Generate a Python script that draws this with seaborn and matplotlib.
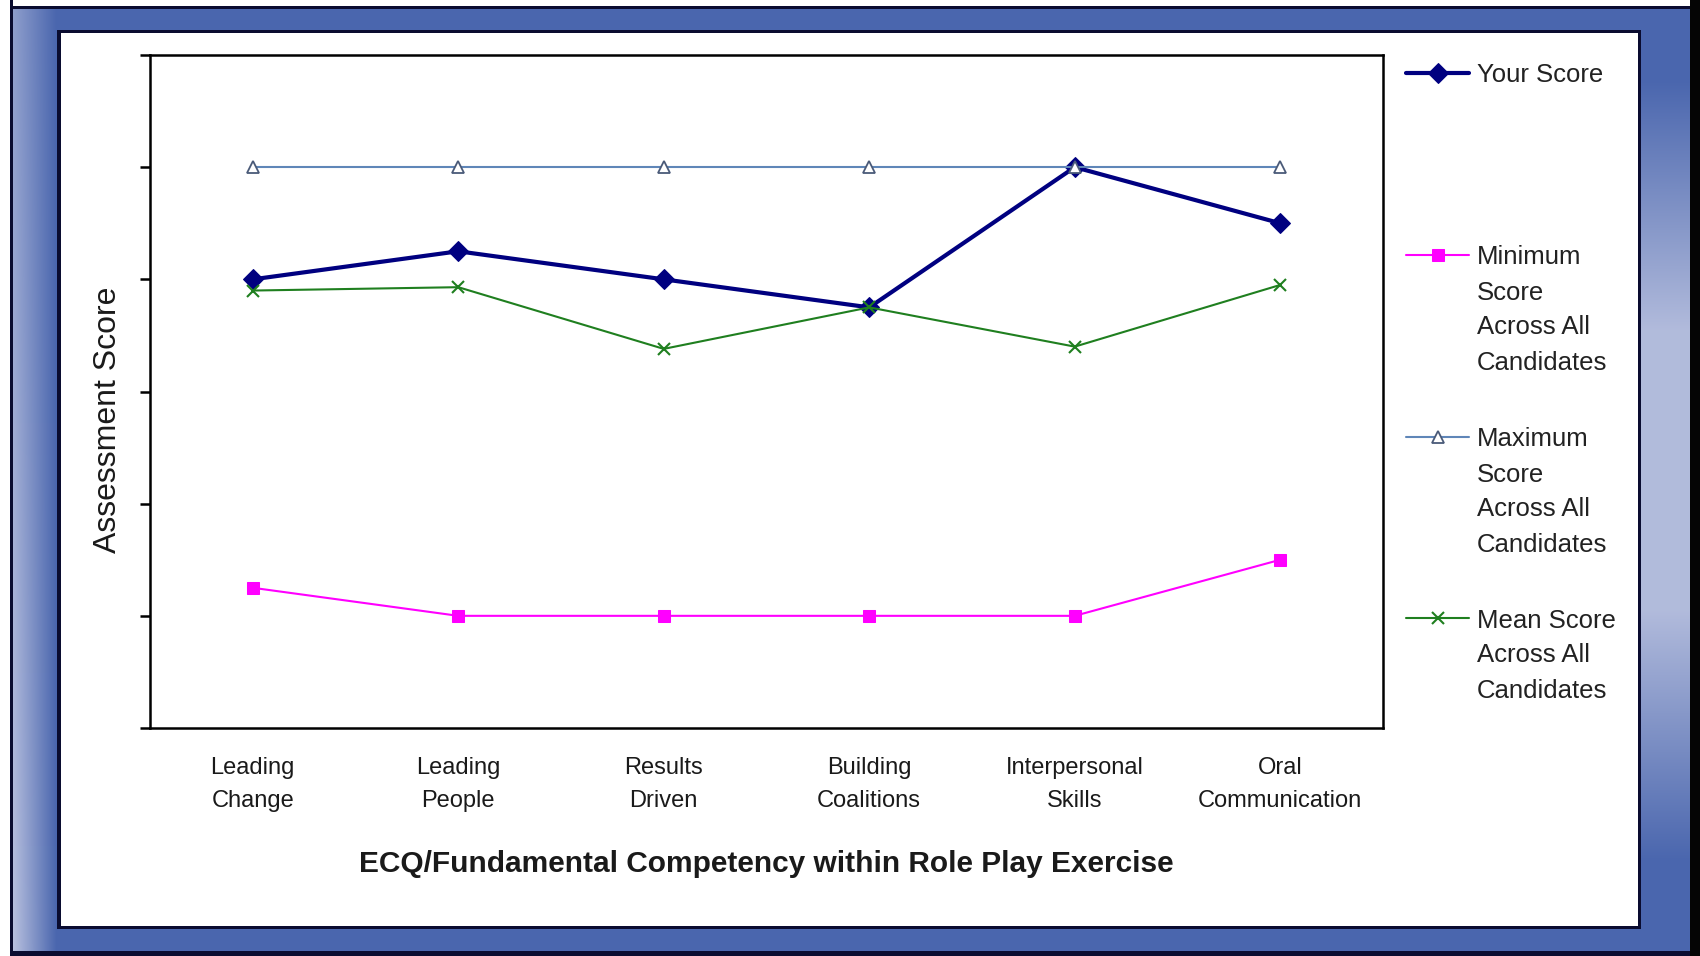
import numpy as np
import pandas as pd
import matplotlib
matplotlib.use("Agg")
import matplotlib.pyplot as plt
from matplotlib.lines import Line2D
import seaborn as sns

# ---------------- data ----------------
categories = ["Leading\nChange", "Leading\nPeople", "Results\nDriven",
              "Building\nCoalitions", "Interpersonal\nSkills", "Oral\nCommunication"]
your_score = [4.0, 4.25, 4.0, 3.75, 5.0, 4.5]
min_score = [1.25, 1.0, 1.0, 1.0, 1.0, 1.5]
max_score = [5.0, 5.0, 5.0, 5.0, 5.0, 5.0]
mean_score = [3.9, 3.93, 3.38, 3.75, 3.40, 3.95]
series_names = ["Your Score",
                "Minimum\nScore\nAcross All\nCandidates",
                "Maximum\nScore\nAcross All\nCandidates",
                "Mean Score\nAcross All\nCandidates"]
y_ticks = [0, 1, 2, 3, 4, 5, 6]

sns.set_style("white")
plt.rcParams["font.family"] = ["Liberation Sans", "DejaVu Sans"]

W, H = 1700, 956
fig = plt.figure(figsize=(W / 100, H / 100), dpi=100)

# ---------------- decorative frame ----------------
bg = np.ones((H, W, 3))
blue = np.array([0x4a, 0x66, 0xae]) / 255.0
light = np.array([0xc4, 0xca, 0xe4]) / 255.0
dark = np.array([0x0a, 0x0c, 0x30]) / 255.0
bg[:, :] = blue
xs = np.linspace(0, 1, 57 - 13)[None, :, None]
rows = np.linspace(0, 1, H)[:, None, None]
lightmix = 0.55 + 0.35 * rows
bg[:, 13:57] = light * (1 - xs) * lightmix + blue * (1 - (1 - xs) * lightmix)
yy = np.arange(H)
w = np.clip(np.minimum((yy - 80) / 250.0, (860 - yy) / 250.0), 0, 1)[:, None, None]
bg[:, 1641:1690] = blue * (1 - w * 0.85) + light * (w * 0.85)
bg[0:6, :] = 1.0
bg[:, 0:10] = 1.0
bg[6:9, 10:1690] = dark
bg[951:956, 10:1690] = dark
bg[:, 10:13] = dark
bg[:, 1690:] = 0.02
bg[30:33, 57:1641] = dark
bg[926:929, 57:1641] = dark
bg[30:929, 57:61] = dark
bg[30:929, 1638:1641] = dark
bg[33:926, 61:1638] = 1.0
axbg = fig.add_axes([0, 0, 1, 1], zorder=-10)
axbg.imshow(bg, aspect="auto", interpolation="bilinear")
axbg.set_axis_off()

# ---------------- main plot ----------------
L, R, T, B = 150, 1383, 55, 728
ax = fig.add_axes([L / W, 1 - B / H, (R - L) / W, (B - T) / H])
ax.set_facecolor("white")

styles = [
    dict(color="#000080", lw=3.0, marker="D", ms=10, mfc="#000080", mec="#000080"),
    dict(color="#ff00ff", lw=1.5, marker="s", ms=8, mfc="#ff00ff", mec="#ff00ff"),
    dict(color="#5f86b8", lw=1.5, marker="^", ms=9, mfc="white", mec="#4a5a78", mew=1.3),
    dict(color="#1f7f1f", lw=1.5, marker="x", ms=8, mec="#1f7f1f", mew=1.5),
]
values = [your_score, min_score, max_score, mean_score]

handles = []
for i, (name, vals, st) in enumerate(zip(series_names, values, styles)):
    df = pd.DataFrame({"cat": categories, "val": vals})
    st = dict(st)
    color = st.pop("color")
    sns.lineplot(data=df, x="cat", y="val", ax=ax, sort=False, color=color,
                 linewidth=st.pop("lw"), marker=st.pop("marker"),
                 markersize=st.pop("ms"), zorder=3 + i, **st)
    handles.append(ax.lines[-1])

ax.set_xlim(-0.5, 5.5)
ax.set_ylim(0, 6)
ax.set_xticks(range(len(categories)))
ax.set_xticklabels(categories, fontsize=17, color="#1a1a1a", linespacing=1.65)
ax.set_xticks(np.arange(-0.5, len(categories), 1.0), minor=True)
ax.tick_params(axis="x", which="major", length=0, pad=21)
ax.tick_params(axis="x", which="minor", length=7, width=1.8, direction="out", color="black")
ax.set_yticks(y_ticks)
ax.set_yticklabels([])
ax.tick_params(axis="y", which="major", length=7, width=1.8, direction="out", color="black", left=True)
for sp in ax.spines.values():
    sp.set_visible(True)
    sp.set_color("black")
    sp.set_linewidth(1.8)

ax.set_xlabel("ECQ/Fundamental Competency within Role Play Exercise",
              fontsize=21.5, fontweight="bold", color="#1a1a1a", va="center")
ax.xaxis.set_label_coords(0.5, (B - 864) / (B - T))
ax.set_ylabel("Assessment Score", fontsize=23, color="#1a1a1a", va="center")
ax.yaxis.set_label_coords((108 - L) / (R - L), (B - 420) / (B - T))

# ---------------- legend (right side, handles aligned with first line) ----------------
leg_y = [73, 255, 437, 618]
line_step = 35
hx0, hx1, tx = 1406, 1469, 1477
for h, name, y in zip(handles, series_names, leg_y):
    yf = 1 - y / H
    fig.add_artist(Line2D([hx0 / W, hx1 / W], [yf, yf], transform=fig.transFigure,
                          color=h.get_color(), lw=h.get_linewidth()))
    fig.add_artist(Line2D([(hx0 + hx1) / 2 / W], [yf], transform=fig.transFigure,
                          linestyle="none", marker=h.get_marker(),
                          ms=h.get_markersize(), mfc=h.get_markerfacecolor(),
                          mec=h.get_markeredgecolor(), mew=h.get_markeredgewidth()))
    for k, part in enumerate(name.split("\n")):
        fig.text(tx / W, 1 - (y + k * line_step) / H, part, fontsize=18.5,
                 color="#222222", ha="left", va="center_baseline")

fig.savefig("out.png", dpi=100)
